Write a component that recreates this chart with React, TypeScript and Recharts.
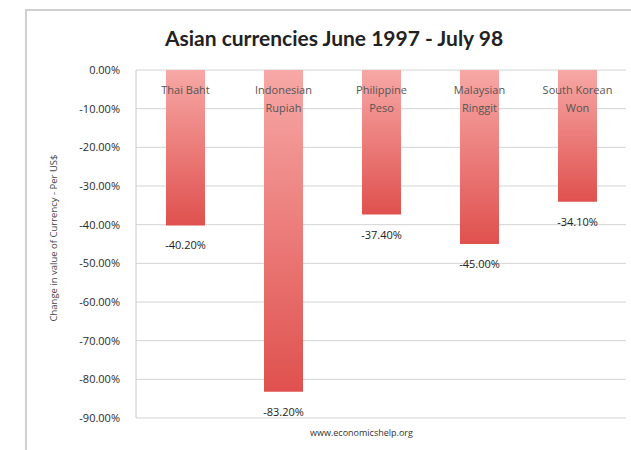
import { BarChart, Bar, XAxis, YAxis, CartesianGrid, LabelList } from 'recharts'

// Change in value of currency against the US$, June 1997 - July 1998
const currencies = ['Thai Baht', 'Indonesian Rupiah', 'Philippine Peso', 'Malaysian Ringgit', 'South Korean Won']
const categoryLines = [['Thai Baht'], ['Indonesian', 'Rupiah'], ['Philippine', 'Peso'], ['Malaysian', 'Ringgit'], ['South Korean', 'Won']]
const changes = [-40.2, -83.2, -37.4, -45.0, -34.1]
const yTicks = [0, -10, -20, -30, -40, -50, -60, -70, -80, -90]

const data = currencies.map((name, i) => ({ name, lines: categoryLines[i], change: changes[i] }))

const FONT = '"Open Sans", "Liberation Sans", sans-serif'

const pct = (v: number) => `${v.toFixed(2)}%`

function CategoryLabel(props: any) {
  const { x, y, width, height, index } = props
  const top = Math.min(y, y + height)
  const cx = x + width / 2
  const lines = categoryLines[index] || []
  return (
    <text x={cx} y={top + 24} textAnchor="middle" fontSize={11} fill="#555" fontFamily={FONT}>
      {lines.map((l, i) => (
        <tspan key={i} x={cx} dy={i === 0 ? 0 : 18}>{l}</tspan>
      ))}
    </text>
  )
}

function ValueLabel(props: any) {
  const { x, y, width, height, value } = props
  const bottom = Math.max(y, y + height)
  return (
    <text x={x + width / 2} y={bottom + 24} textAnchor="middle" fontSize={11} fill="#222" fontFamily={FONT}>
      {pct(value)}
    </text>
  )
}

function YTitle() {
  const cx = 54
  const cy = 238
  return (
    <text x={cx} y={cy} transform={`rotate(-90, ${cx}, ${cy})`} textAnchor="middle" dominantBaseline="middle" fontSize={9.5} fill="#444" fontFamily={FONT}>
      Change in value of Currency - Per US$
    </text>
  )
}

export default function App() {
  return (
    <div style={{ position: 'absolute', left: 0, top: 0, width: 631, height: 450, overflow: 'hidden', background: '#fff' }}>
      {/* chart frame */}
      <div style={{ position: 'absolute', left: 25, top: 9, width: 640, height: 480, border: '2px solid #d0d0d0', boxSizing: 'border-box' }} />
      <div style={{ position: 'absolute', left: 0, top: 25, width: 668, textAlign: 'center', fontFamily: 'Lato, sans-serif', fontWeight: 700, fontSize: 21, color: '#222' }}>
        Asian currencies June 1997 - July 98
      </div>
      <div style={{ position: 'absolute', left: 0, top: 0 }}>
        <BarChart width={631} height={450} data={data} margin={{ top: 70, right: 5, bottom: 32, left: 76 }}>
          <defs>
            <linearGradient id="barFill" x1="0" y1="0" x2="0" y2="1">
              <stop offset="0%" stopColor="#f7a8a6" />
              <stop offset="100%" stopColor="#df514e" />
            </linearGradient>
          </defs>
          <CartesianGrid vertical={false} stroke="#d4d4d4" />
          <XAxis dataKey="name" hide />
          <YAxis
            width={60}
            domain={[-90, 0]}
            ticks={yTicks}
            interval={0}
            tickFormatter={pct}
            tickLine={false}
            tickSize={0}
            tickMargin={16}
            axisLine={{ stroke: '#c8c8c8' }}
            tick={{ fontSize: 11, fill: '#2a2a2a', fontFamily: FONT }}
            label={<YTitle />}
          />
          <Bar dataKey="change" fill="url(#barFill)" barSize={39} isAnimationActive={false}>
            <LabelList dataKey="name" content={<CategoryLabel />} />
            <LabelList dataKey="change" content={<ValueLabel />} />
          </Bar>
        </BarChart>
      </div>
      <div style={{ position: 'absolute', left: 310, top: 426, fontFamily: FONT, fontSize: 9, color: '#333' }}>
        www.economicshelp.org
      </div>
    </div>
  )
}
